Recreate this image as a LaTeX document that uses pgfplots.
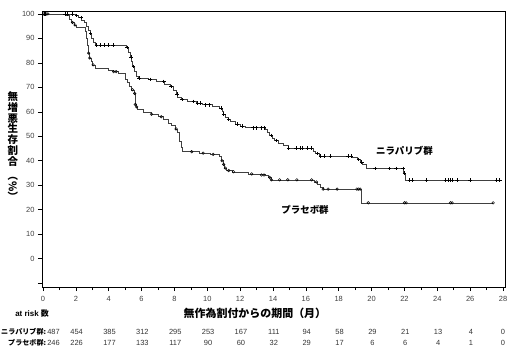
\documentclass[border=0pt]{standalone}
\usepackage{fontspec}
\setmainfont{Liberation Sans}
\newfontfamily\jp{Noto Sans CJK JP}
\usepackage{pgfplots}
\pgfplotsset{compat=1.18}
\tikzset{rn/.style={anchor=base, inner sep=0pt, font=\fontsize{7.5}{9}\selectfont, text=black!80}}
\begin{document}
\begin{tikzpicture}
\useasboundingbox (-42bp,-65bp) rectangle (476bp,287bp);
\begin{axis}[
  at={(0,0)}, anchor=south west,
  scale only axis, width=463bp, height=276bp,
  xmin=-0.06, xmax=28.12, ymin=-11.6, ymax=101.2,
  xtick={0,2,...,28}, minor xtick={1,3,...,27},
  ytick={-10,0,10,...,100}, yticklabels={,0,10,20,30,40,50,60,70,80,90,100},
  tick align=outside, xtick pos=bottom, ytick pos=left,
  major tick length=4bp, minor tick length=3bp,
  tick style={black, line width=0.6pt},
  axis line style={black, line width=0.6pt},
  ticklabel style={font=\fontsize{7.5}{9}\selectfont, text=black!75},
  xticklabel style={yshift=-1.5bp},
  /pgf/number format/assume math mode=true,
  clip=false,
]
% Niraparib KM curve
\addplot[const plot, black!75, line width=0.5pt] coordinates {
(0,100)(1.95,99.3)(2.15,98.5)(2.35,97.5)(2.5,96.5)(2.65,95)(2.75,93.5)(2.85,92)(2.95,90)(3.05,88.5)(3.2,87.3)
(5.05,86.3)(5.2,84.5)(5.3,82.5)(5.38,80.5)(5.45,78.5)(5.55,76.5)(5.7,74.5)(5.8,73.7)(6.4,73.2)(6.9,72.4)
(7.4,71.3)(7.75,70.3)(7.95,68.8)(8.1,67.3)(8.2,66)(8.4,65)(8.8,64.2)(9.3,63.5)(9.7,62.9)(10.3,62.4)
(10.75,61.5)(10.9,60.3)(11.0,59)(11.1,57.8)(11.25,56.8)(11.4,56)(11.7,55)(12.0,54.2)(12.3,53.5)
(13.5,52.8)(13.65,51.5)(13.8,50.3)(13.95,49.2)(14.1,48.2)(14.3,47.2)(14.6,46.3)(14.9,45.1)
(16.45,44)(16.6,43)(16.8,41.9)(18.8,41.3)(19.15,40.5)(19.3,39.5)(19.45,38.5)(19.65,36.9)
(21.95,34.9)(22.05,32.2)(27.8,32.2)};
\addplot[only marks, mark=+, mark size=1.8pt, black, mark options={line width=0.5pt}] coordinates {
(0.05,100)(0.15,100)(1.35,100)(1.5,100)(1.8,100)(2.05,99.3)(2.3,98.5)(2.9,92)(3.25,87.3)(3.5,87.3)
(3.7,87.3)(3.95,87.3)(4.25,87.3)(5.1,86.3)(5.35,82.5)(5.5,78.5)(5.85,73.7)(6.5,73.2)(7.35,72.4)
(7.8,70.3)(8.15,67.3)(8.45,65)(9.15,64.2)(9.4,63.5)(9.55,63.5)(9.9,62.9)(10.1,62.9)(10.85,61.5)
(11.0,59)(11.3,56.8)(11.8,55)(12.1,54.2)(12.8,53.5)(13.0,53.5)(13.3,53.5)(13.45,53.5)(13.9,50.3)
(14.2,48.2)(14.95,45.1)(15.4,45.1)(15.65,45.1)(15.8,45.1)(16.1,45.1)(16.3,45.1)(16.7,43)(16.9,41.9)
(17.1,41.9)(17.5,41.9)(18.55,41.9)(18.75,41.9)(19.2,40.5)(19.4,39.5)(20.2,36.9)(21.1,36.9)(21.5,36.9)
(21.9,36.9)(22.0,34.9)(22.3,32.2)(22.45,32.2)(23.35,32.2)(24.5,32.2)(24.65,32.2)(24.8,32.2)(24.9,32.2)
(25.2,32.2)(26.0,32.2)(27.6,32.2)(27.8,32.2)};
% Placebo KM curve
\addplot[const plot, black!75, line width=0.5pt] coordinates {
(0,100)(1.4,99.3)(1.6,98)(1.72,96.5)(1.9,95.5)(2.05,94.5)(2.55,93)(2.63,90)(2.7,87)(2.75,84)(2.82,82)
(2.92,80.5)(3.0,79.2)(3.2,77.8)(4.0,77)(4.25,76.4)(4.6,75.7)(5.0,73.5)(5.1,72)(5.25,70.5)(5.4,69)
(5.55,67.5)(5.6,63)(5.65,62)(5.75,61)(6.1,60)(6.6,59)(7.0,58)(7.3,57)(7.6,55.5)(7.8,54.5)(8.05,53)
(8.2,51.5)(8.3,48)(8.4,45.5)(8.5,43.7)(9.5,43.1)(10.2,42.6)(10.7,41.7)(10.85,40)(10.95,38.5)(11.05,37)
(11.15,36)(11.5,35.5)(12.5,34.6)(13.5,34.2)(13.7,33.2)(13.9,32.2)(16.5,31.3)(16.7,30.3)(16.9,29.3)
(17.05,28.4)(19.35,22.8)(27.4,22.8)};
\addplot[only marks, mark=o, mark size=1.3pt, black, mark options={line width=0.5pt}] coordinates {
(0.05,100)(0.2,100)(0.3,100)(1.8,96.5)(1.95,95.5)(2.78,84)(2.85,82)(3.05,79.2)(4.3,76.4)(4.45,76.4)
(5.45,69)(5.58,67.5)(5.62,63)(5.7,62)(6.6,59)(7.2,58)(8.1,53)(9.05,43.7)(9.75,43.1)(10.35,42.6)
(10.9,40)(11.0,38.5)(11.1,37)(11.3,36)(11.6,35.5)(12.7,34.6)(13.3,34.2)(13.45,34.2)(13.8,33.2)
(13.9,32.2)(14.4,32.2)(14.9,32.2)(15.45,32.2)(16.35,32.2)(16.65,31.3)(17.05,28.4)(17.35,28.4)
(17.9,28.4)(19.1,28.4)(19.2,28.4)(19.3,28.4)(19.8,22.8)(22.0,22.8)(22.1,22.8)(24.8,22.8)(24.9,22.8)
(27.4,22.8)};
% at-risk numbers
\node[rn] at (axis cs:0.64,-30.85) {487};
\node[rn] at (axis cs:2.05,-30.85) {454};
\node[rn] at (axis cs:4.05,-30.85) {385};
\node[rn] at (axis cs:6.05,-30.85) {312};
\node[rn] at (axis cs:8.05,-30.85) {295};
\node[rn] at (axis cs:10.05,-30.85) {253};
\node[rn] at (axis cs:12.05,-30.85) {167};
\node[rn] at (axis cs:14.05,-30.85) {111};
\node[rn] at (axis cs:16.05,-30.85) {94};
\node[rn] at (axis cs:18.05,-30.85) {58};
\node[rn] at (axis cs:20.05,-30.85) {29};
\node[rn] at (axis cs:22.05,-30.85) {21};
\node[rn] at (axis cs:24.05,-30.85) {13};
\node[rn] at (axis cs:26.05,-30.85) {4};
\node[rn] at (axis cs:28.0,-30.85) {0};
\node[rn] at (axis cs:0.64,-35.7) {246};
\node[rn] at (axis cs:2.05,-35.7) {226};
\node[rn] at (axis cs:4.05,-35.7) {177};
\node[rn] at (axis cs:6.05,-35.7) {133};
\node[rn] at (axis cs:8.05,-35.7) {117};
\node[rn] at (axis cs:10.05,-35.7) {90};
\node[rn] at (axis cs:12.05,-35.7) {60};
\node[rn] at (axis cs:14.05,-35.7) {32};
\node[rn] at (axis cs:16.05,-35.7) {29};
\node[rn] at (axis cs:18.05,-35.7) {17};
\node[rn] at (axis cs:20.05,-35.7) {6};
\node[rn] at (axis cs:22.05,-35.7) {6};
\node[rn] at (axis cs:24.05,-35.7) {4};
\node[rn] at (axis cs:26.05,-35.7) {1};
\node[rn] at (axis cs:28.0,-35.7) {0};
\node[anchor=base east, inner sep=0pt, font=\jp\bfseries\fontsize{7.1}{9}\selectfont] at (axis cs:0.2,-30.85) {ニラパリブ群:};
\node[anchor=base east, inner sep=0pt, font=\jp\bfseries\fontsize{7.1}{9}\selectfont] at (axis cs:0.2,-35.7) {プラセボ群:};
\node[anchor=west, inner sep=0pt, font=\bfseries\fontsize{8}{9}\selectfont] at (axis cs:-1.7,-22.6) {at risk {\jp\bfseries 数}};
\node[inner sep=0pt, font=\jp\bfseries\fontsize{11}{13}\selectfont] at (axis cs:12.9,-22.2) {無作為割付からの期間（月）};
\node[anchor=north, inner sep=0pt, align=center, font=\jp\bfseries\fontsize{10.5}{10.8}\selectfont] at (axis cs:-1.83,68.3) {無\\増\\悪\\生\\存\\割\\合};
\node[anchor=west, rotate=-90, inner sep=0pt, font=\jp\bfseries\fontsize{10.5}{12}\selectfont] at (axis cs:-1.83,36.0) {（\%）};
\node[inner sep=0pt, font=\jp\bfseries\fontsize{9.5}{11}\selectfont] at (axis cs:22.0,44.0) {ニラパリブ群};
\node[inner sep=0pt, font=\jp\bfseries\fontsize{9.5}{11}\selectfont] at (axis cs:15.95,19.9) {プラセボ群};
\end{axis}
\end{tikzpicture}
\end{document}
